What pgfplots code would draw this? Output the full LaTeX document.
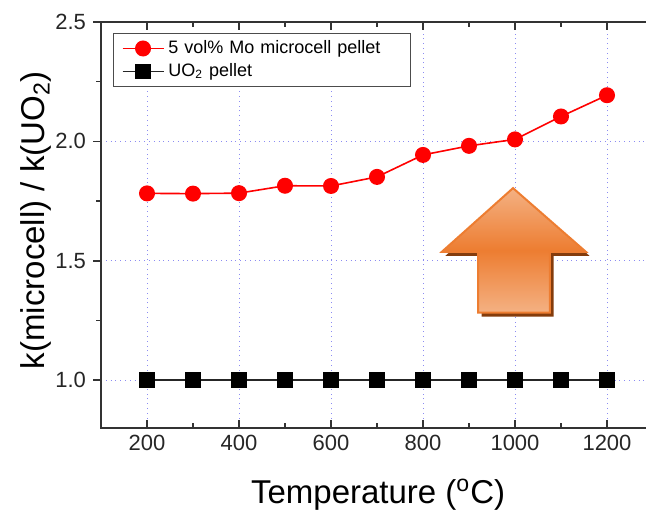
\documentclass[border=0pt]{standalone}
\usepackage{fontspec}
\setmainfont{Liberation Sans}
\usepackage{pgfplots}
\pgfplotsset{compat=1.18}
\definecolor{gridblue}{HTML}{8C8CF2}
\definecolor{arrowmid}{HTML}{ED7D31}
\definecolor{arrowlight}{HTML}{F4B183}
\definecolor{arrowshadow}{HTML}{843C0C}

\begin{document}
\begin{tikzpicture}
\begin{axis}[
    scale only axis,
    width=276pt, height=203pt,
    xmin=100, xmax=1300,
    ymin=0.8, ymax=2.5,
    xtick={200,400,...,1200},
    minor x tick num=1,
    ytick={1.0,1.5,2.0,2.5},
    minor y tick num=1,
    xtick pos=both, ytick pos=left,
    xtick align=inside, ytick align=outside,
    major tick length=4pt, minor tick length=2.5pt,
    tick style={line width=0.8pt, black!80},
    axis line style={line width=1pt, black!80},
    grid=major,
    major grid style={dotted, gridblue, line width=0.5pt},
    /pgf/number format/assume math mode=true,
    yticklabel style={/pgf/number format/.cd, fixed, fixed zerofill, precision=1},
    xticklabel style={/pgf/number format/.cd, set thousands separator={}},
    ticklabel style={font=\fontsize{11}{13}\selectfont, text=black!85},
    xlabel={Temperature (\textsuperscript{o}C)},
    ylabel={k(microcell) / k(UO\textsubscript{2})},
    xlabel style={font=\fontsize{16.5}{18}\selectfont, at={(rel axis cs:0.502,-0.165)}, anchor=center},
    ylabel style={font=\fontsize{16.5}{18}\selectfont, at={(rel axis cs:-0.118,0.512)}, anchor=center},
    legend style={at={(rel axis cs:0.022,0.973)}, anchor=north west,
        font=\fontsize{9}{11}\selectfont, draw=black!70, line width=0.6pt,
        inner xsep=4pt, inner ysep=1.5pt, row sep=-0.5pt,
        text width=115pt},
    legend image code/.code={%
        \draw[mark repeat=2,mark phase=2,#1] plot coordinates {(0cm,0cm) (0.36cm,0cm) (0.72cm,0cm)};},
    legend cell align=left,
    clip=false,
]
% decorative arrow
\fill[arrowshadow] ([xshift=1.8pt,yshift=-2pt]axis cs:995.7,1.804) -- ([xshift=1.8pt,yshift=-2pt]axis cs:1154,1.5375) -- ([xshift=1.8pt,yshift=-2pt]axis cs:1076,1.5375) -- ([xshift=1.8pt,yshift=-2pt]axis cs:1076,1.283) -- ([xshift=1.8pt,yshift=-2pt]axis cs:919.6,1.283) -- ([xshift=1.8pt,yshift=-2pt]axis cs:919.6,1.5375) -- ([xshift=1.8pt,yshift=-2pt]axis cs:841,1.5375) -- cycle;
\path[draw=arrowmid, line width=1pt, top color=arrowlight, bottom color=arrowlight, middle color=arrowmid]
  (axis cs:995.7,1.804) -- (axis cs:1154,1.5375) -- (axis cs:1076,1.5375) -- (axis cs:1076,1.283) -- (axis cs:919.6,1.283) -- (axis cs:919.6,1.5375) -- (axis cs:841,1.5375) -- cycle;

\addplot[red, line width=0.8pt, mark=*, mark size=3.6pt, mark options={fill=red, draw=red}]
  coordinates {(200,1.782) (300,1.781) (400,1.783) (500,1.814) (600,1.813) (700,1.851) (800,1.943) (900,1.981) (1000,2.008) (1100,2.104) (1200,2.193)};
\addlegendentry{5 vol\% Mo microcell pellet}
\addplot[black!85, line width=0.8pt, mark=square*, mark size=3.5pt, mark options={fill=black, draw=black}]
  coordinates {(200,1.0) (300,1.0) (400,1.0) (500,1.0) (600,1.0) (700,1.0) (800,1.0) (900,1.0) (1000,1.0) (1100,1.0) (1200,1.0)};
\addlegendentry{UO\textsubscript{2} pellet}

\coordinate (bbsw) at (rel axis cs:-0.183,-0.207);
\coordinate (bbne) at (rel axis cs:0.9873,1.054);
\end{axis}
\pgfresetboundingbox
\path[use as bounding box] (bbsw) rectangle (bbne);
\end{tikzpicture}
\end{document}
